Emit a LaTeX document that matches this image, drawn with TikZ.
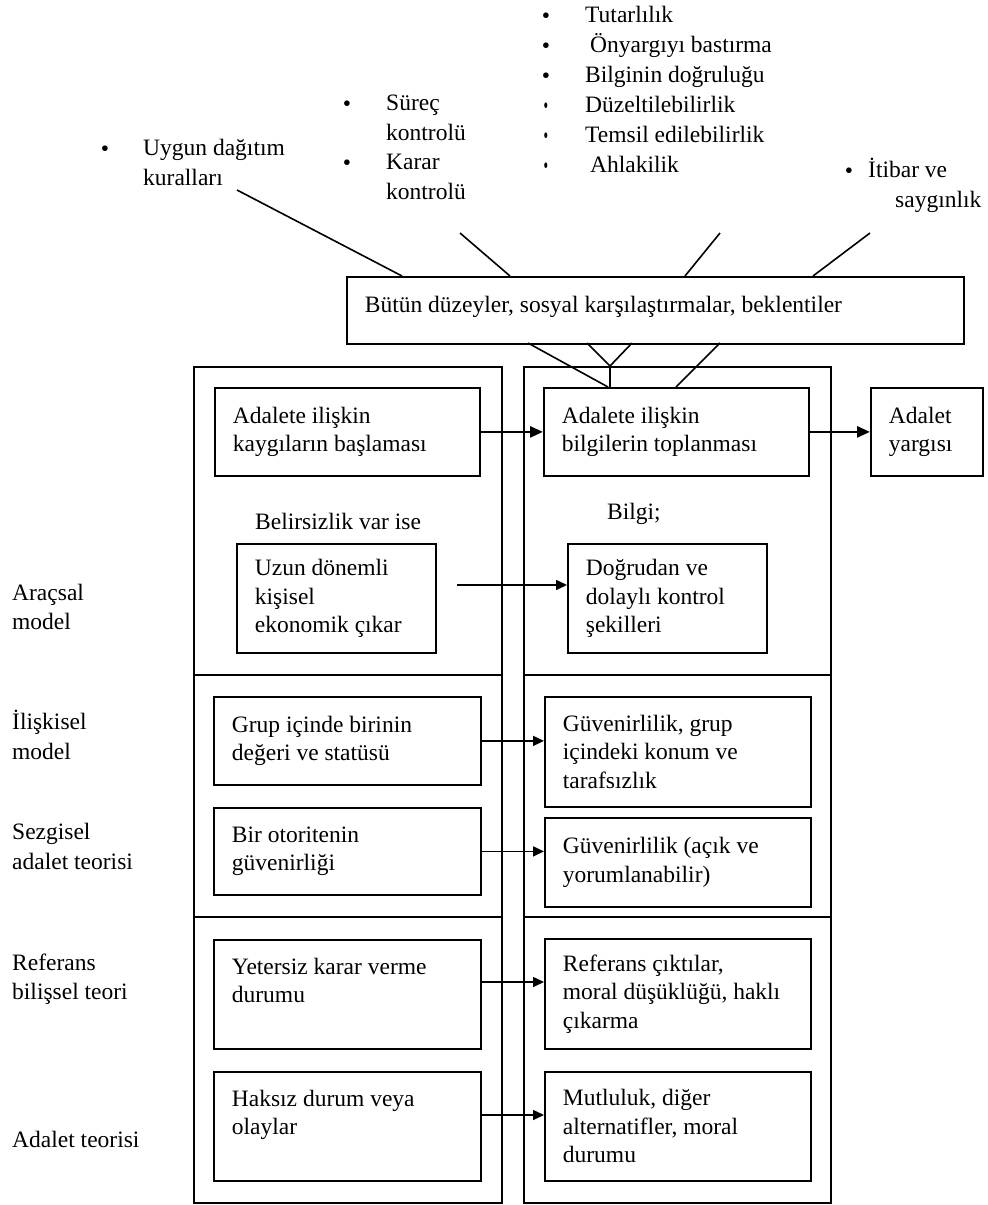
\documentclass[tikz,border=0pt]{standalone}
\usepackage{fontspec}
\setmainfont{Liberation Serif}
\usetikzlibrary{arrows.meta}
\begin{document}
\begin{tikzpicture}[x=1pt,y=-1pt,
  every node/.style={font=\fontsize{23.5}{28.5}\selectfont},
  box/.style={draw, line width=1.8pt, anchor=north west, inner xsep=18pt, inner ysep=0pt, align=flush left},
  col/.style={draw, line width=1.8pt, anchor=north west, inner sep=0pt},
  txt/.style={anchor=base west, inner sep=0pt},
  bul/.style={anchor=base, inner sep=0pt},
  conn/.style={line width=1.6pt},
  arr/.style={line width=1.6pt, -{Triangle[length=11pt,width=10pt]}},
  bigarr/.style={line width=2.8pt, -{Triangle[length=13pt,width=11pt]}}
]
\useasboundingbox (0,0) rectangle (988,1205);

% columns
\node[col, minimum width=308pt, minimum height=836pt] (lc) at (193,366) {};
\node[col, minimum width=307pt, minimum height=836pt] (rc) at (523,366) {};
\coordinate (la1) at (193,675); \coordinate (lb1) at (501,675);
\coordinate (la2) at (193,917); \coordinate (lb2) at (501,917);
\coordinate (ra1) at (523,675); \coordinate (rb1) at (830,675);
\coordinate (ra2) at (523,917); \coordinate (rb2) at (830,917);
\draw[conn] (la1) -- (lb1);
\draw[conn] (la2) -- (lb2);
\draw[conn] (ra1) -- (rb1);
\draw[conn] (ra2) -- (rb2);

% big box
\node[box, text width=581pt, minimum height=67pt, text height=14pt, text depth=10pt] (big) at (346,276) {Bütün düzeyler, sosyal karşılaştırmalar, beklentiler};

% boxes
\node[box, text width=229pt, minimum height=88pt] (a1) at (214,387) {Adalete ilişkin\\kaygıların başlaması};
\node[box, text width=229pt, minimum height=88pt] (b1) at (543,387) {Adalete ilişkin\\bilgilerin toplanması};
\node[box, text width=76pt, minimum height=88pt] (yg) at (870,387) {Adalet\\yargısı};
\node[box, text width=163pt, minimum height=109pt] (uz) at (236,543) {Uzun dönemli\\kişisel\\ekonomik çıkar};
\node[box, text width=163pt, minimum height=109pt] (dg) at (567,543) {Doğrudan ve\\dolaylı kontrol\\şekilleri};
\node[box, text width=231pt, minimum height=88pt] (c1) at (213,696) {Grup içinde birinin\\değeri ve statüsü};
\node[box, text width=230pt, minimum height=110pt] (c2) at (544,696) {Güvenirlilik, grup\\içindeki konum ve\\tarafsızlık};
\node[box, text width=231pt, minimum height=87pt] (d1) at (213,807) {Bir otoritenin\\güvenirliği};
\node[box, text width=230pt, minimum height=89pt] (d2) at (544,817) {Güvenirlilik (açık ve\\yorumlanabilir)};
\node[box, text width=231pt, minimum height=109pt] (e1) at (213,939) {Yetersiz karar verme\\durumu\\\mbox{}};
\node[box, text width=230pt, minimum height=110pt] (e2) at (544,938) {Referans çıktılar,\\moral düşüklüğü, haklı\\çıkarma};
\node[box, text width=231pt, minimum height=109pt] (f1) at (213,1071) {Haksız durum veya\\olaylar\\\mbox{}};
\node[box, text width=230pt, minimum height=109pt] (f2) at (544,1071) {Mutluluk, diğer\\alternatifler, moral\\durumu};

% free texts in columns
\node[txt] (bel) at (255,529) {Belirsizlik var ise};
\node[txt] (bil) at (607,519) {Bilgi;};

% left labels
\node[txt] (m1a) at (12,600) {Araçsal};
\node[txt] (m1b) at (12,629) {model};
\node[txt] (m2a) at (12,729) {İlişkisel};
\node[txt] (m2b) at (12,759) {model};
\node[txt] (m3a) at (12,839) {Sezgisel};
\node[txt] (m3b) at (12,869) {adalet teorisi};
\node[txt] (m4a) at (12,970) {Referans};
\node[txt] (m4b) at (12,999) {bilişsel teori};
\node[txt] (m5a) at (12,1147) {Adalet teorisi};

% top bullet texts
\node[bul] (bu1) at (105,156) {\textbullet};
\node[txt] (tu1) at (143,155) {Uygun dağıtım};
\node[txt] (tu2) at (143,185) {kuralları};

\node[bul] (bs1) at (347,111) {\textbullet};
\node[txt] (ts1) at (386,110) {Süreç};
\node[txt] (ts2) at (386,140) {kontrolü};
\node[bul] (bs2) at (347,170) {\textbullet};
\node[txt] (ts3) at (386,169) {Karar};
\node[txt] (ts4) at (386,199) {kontrolü};

\node[bul] (bl1) at (546,23) {\textbullet};
\node[txt] (tl1) at (585,22) {Tutarlılık};
\node[bul] (bl2) at (546,53) {\textbullet};
\node[txt] (tl2) at (590,52) {Önyargıyı bastırma};
\node[bul] (bl3) at (546,83) {\textbullet};
\node[txt] (tl3) at (585,82) {Bilginin doğruluğu};
\node[bul] (bl4) at (546,113) {\scalebox{0.55}[1]{\textbullet}};
\node[txt] (tl4) at (585,112) {Düzeltilebilirlik};
\node[bul] (bl5) at (546,143) {\scalebox{0.55}[1]{\textbullet}};
\node[txt] (tl5) at (585,142) {Temsil edilebilirlik};
\node[bul] (bl6) at (546,173) {\scalebox{0.55}[1]{\textbullet}};
\node[txt] (tl6) at (590,172) {Ahlakilik};

\node[bul] (bi1) at (849,178) {\textbullet};
\node[txt] (ti1) at (868,177) {İtibar ve};
\node[txt] (ti2) at (895,207) {saygınlık};

% connectors from top texts to big box
\coordinate (p1) at (237,190); \coordinate (q1) at (402,276);
\coordinate (p2) at (460,233); \coordinate (q2) at (510,276);
\coordinate (p3) at (720,233); \coordinate (q3) at (685,276);
\coordinate (p4) at (870,233); \coordinate (q4) at (813,276);
\draw[conn] (p1) -- (q1);
\draw[conn] (p2) -- (q2);
\draw[conn] (p3) -- (q3);
\draw[conn] (p4) -- (q4);

% connectors from big box to b1
\coordinate (r1) at (528,343); \coordinate (s1) at (608,387);
\coordinate (r2) at (587,343); \coordinate (r3) at (632,343);
\coordinate (vj) at (610,366); \coordinate (s2) at (610,387);
\coordinate (r4) at (720,343); \coordinate (s4) at (676,387);
\draw[conn] (r1) -- (s1);
\draw[conn] (r2) -- (vj) -- (r3);
\draw[conn] (vj) -- (s2);
\draw[conn] (r4) -- (s4);

% arrows
\draw[bigarr] (a1.east) -- (b1.west);
\draw[bigarr] (b1.east) -- (yg.west);
\coordinate (uzs) at (457,585);
\draw[arr] (uzs) -- (uzs -| dg.west);
\draw[arr] (c1.east) -- (c1.east -| c2.west);
\draw[arr] (d1.east) -- (d1.east -| d2.west);
\coordinate (e1o) at (480,982);
\draw[arr] (e1o) -- (e1o -| e2.west);
\coordinate (f1o) at (480,1115);
\draw[arr] (f1o) -- (f1o -| f2.west);
\end{tikzpicture}
\end{document}
